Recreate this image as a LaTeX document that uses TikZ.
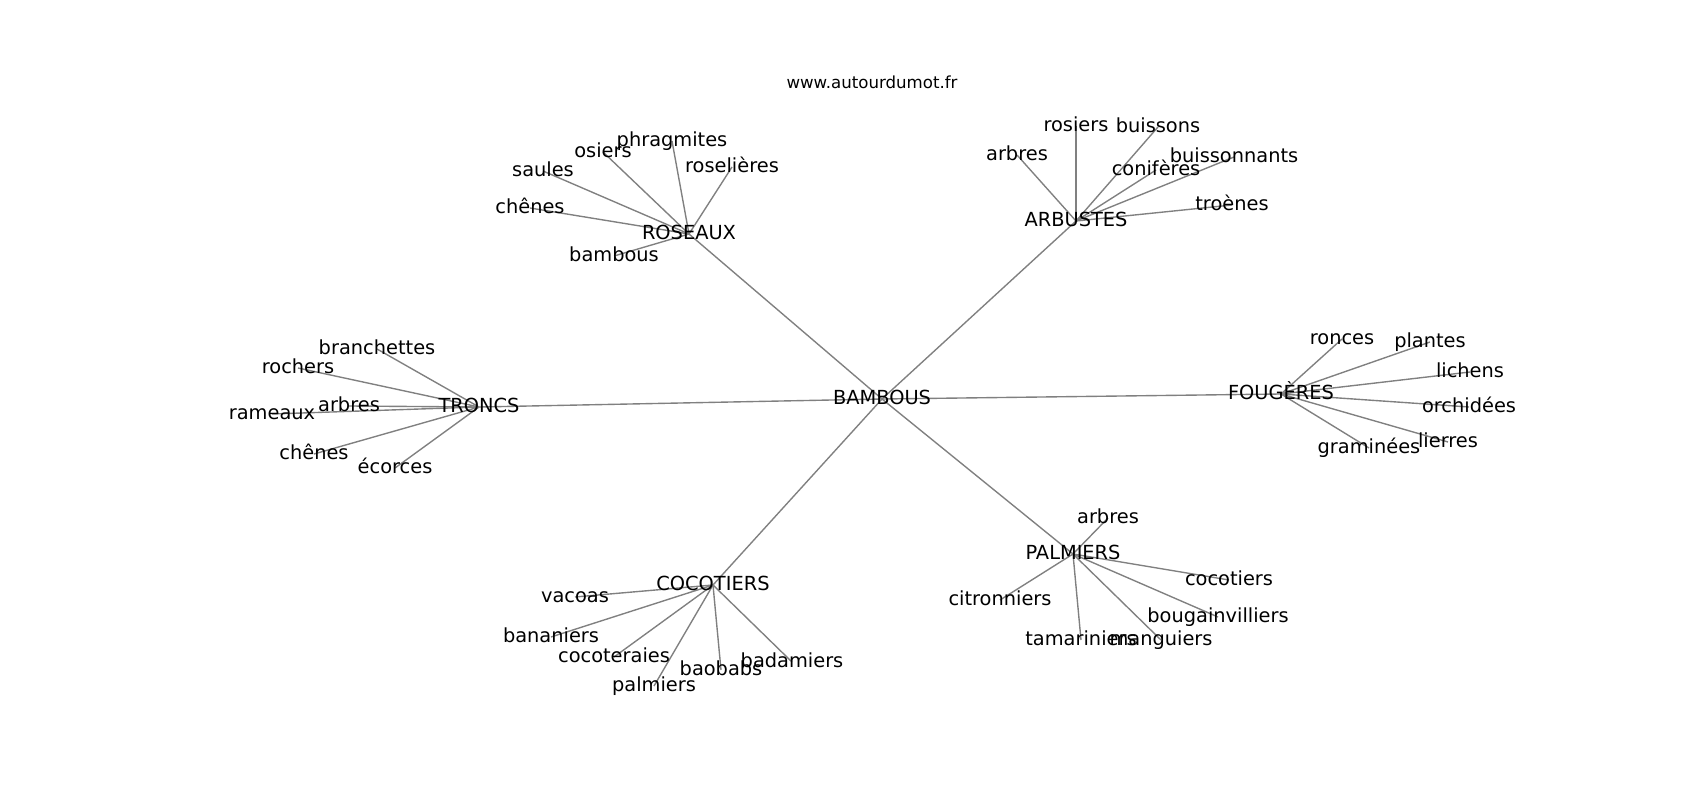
\documentclass[tikz,border=0pt]{standalone}
\usepackage{fontspec}
\setmainfont{DejaVu Sans}
\usepackage{tikz}
\usetikzlibrary{backgrounds}
\tikzstyle{word} = [font=\fontsize{14}{16}\selectfont, text height=10.64pt, text depth=3.36pt, inner sep=0pt]
\tikzstyle{site} = [font=\fontsize{12}{14}\selectfont, text height=9.12pt, text depth=2.88pt, inner sep=0pt]
\tikzstyle{link} = [draw=gray, line width=1pt]

\begin{document}
\begin{tikzpicture}[x=0.01in, y=-0.01in]

  \useasboundingbox (0,-2) rectangle (1700,798);

  \node[site] (site) at (872,82) {www.autourdumot.fr};

  % centre
  \node[word] (bambous) at (882,397) {BAMBOUS};

  % ROSEAUX
  \node[word] (roseaux) at (689,232) {ROSEAUX};
  \node[word] (phragmites) at (672,139) {phragmites};
  \node[word] (osiers) at (603,150) {osiers};
  \node[word] (roselieres) at (732,165) {roselières};
  \node[word] (saules) at (543,169) {saules};
  \node[word] (chenesR) at (530,206) {chênes};
  \node[word] (bambousR) at (614,254) {bambous};

  % ARBUSTES
  \node[word] (arbustes) at (1076,219) {ARBUSTES};
  \node[word] (rosiers) at (1076,124) {rosiers};
  \node[word] (buissons) at (1158,125) {buissons};
  \node[word] (arbresA) at (1017,153) {arbres};
  \node[word] (buissonnants) at (1234,155) {buissonnants};
  \node[word] (coniferes) at (1156,168) {conifères};
  \node[word] (troenes) at (1232,203) {troènes};

  % TRONCS
  \node[word] (troncs) at (479,405) {TRONCS};
  \node[word] (branchettes) at (377,347) {branchettes};
  \node[word] (rochers) at (298,366) {rochers};
  \node[word] (arbresT) at (349,404) {arbres};
  \node[word] (rameaux) at (272,412) {rameaux};
  \node[word] (chenesT) at (314,452) {chênes};
  \node[word] (ecorces) at (395,466) {écorces};

  % FOUGERES
  \node[word] (fougeres) at (1281,392) {FOUGÈRES};
  \node[word] (ronces) at (1342,337) {ronces};
  \node[word] (plantes) at (1430,340) {plantes};
  \node[word] (lichens) at (1470,370) {lichens};
  \node[word] (orchidees) at (1469,405) {orchidées};
  \node[word] (lierres) at (1448,440) {lierres};
  \node[word] (graminees) at (1369,446) {graminées};

  % COCOTIERS
  \node[word] (cocotiers) at (713,583) {COCOTIERS};
  \node[word] (vacoas) at (575,595) {vacoas};
  \node[word] (bananiers) at (551,635) {bananiers};
  \node[word] (cocoteraies) at (614,655) {cocoteraies};
  \node[word] (baobabs) at (721,668) {baobabs};
  \node[word] (badamiers) at (792,660) {badamiers};
  \node[word] (palmiersC) at (654,684) {palmiers};

  % PALMIERS
  \node[word] (palmiers) at (1073,552) {PALMIERS};
  \node[word] (arbresP) at (1108,516) {arbres};
  \node[word] (cocotiersP) at (1229,578) {cocotiers};
  \node[word] (citronniers) at (1000,598) {citronniers};
  \node[word] (bougainvilliers) at (1218,615) {bougainvilliers};
  \node[word] (tamariniers) at (1081,638) {tamariniers};
  \node[word] (manguiers) at (1161,638) {manguiers};

  \begin{pgfonlayer}{background}
    \draw[link] (bambous.center) -- (roseaux.center);
    \draw[link] (bambous.center) -- (arbustes.center);
    \draw[link] (bambous.center) -- (troncs.center);
    \draw[link] (bambous.center) -- (fougeres.center);
    \draw[link] (bambous.center) -- (cocotiers.center);
    \draw[link] (bambous.center) -- (palmiers.center);

    \draw[link] (roseaux.center) -- (phragmites.center);
    \draw[link] (roseaux.center) -- (osiers.center);
    \draw[link] (roseaux.center) -- (roselieres.center);
    \draw[link] (roseaux.center) -- (saules.center);
    \draw[link] (roseaux.center) -- (chenesR.center);
    \draw[link] (roseaux.center) -- (bambousR.center);

    \draw[link] (arbustes.center) -- (rosiers.center);
    \draw[link] (arbustes.center) -- (buissons.center);
    \draw[link] (arbustes.center) -- (arbresA.center);
    \draw[link] (arbustes.center) -- (buissonnants.center);
    \draw[link] (arbustes.center) -- (coniferes.center);
    \draw[link] (arbustes.center) -- (troenes.center);

    \draw[link] (troncs.center) -- (branchettes.center);
    \draw[link] (troncs.center) -- (rochers.center);
    \draw[link] (troncs.center) -- (arbresT.center);
    \draw[link] (troncs.center) -- (rameaux.center);
    \draw[link] (troncs.center) -- (chenesT.center);
    \draw[link] (troncs.center) -- (ecorces.center);

    \draw[link] (fougeres.center) -- (ronces.center);
    \draw[link] (fougeres.center) -- (plantes.center);
    \draw[link] (fougeres.center) -- (lichens.center);
    \draw[link] (fougeres.center) -- (orchidees.center);
    \draw[link] (fougeres.center) -- (lierres.center);
    \draw[link] (fougeres.center) -- (graminees.center);

    \draw[link] (cocotiers.center) -- (vacoas.center);
    \draw[link] (cocotiers.center) -- (bananiers.center);
    \draw[link] (cocotiers.center) -- (cocoteraies.center);
    \draw[link] (cocotiers.center) -- (baobabs.center);
    \draw[link] (cocotiers.center) -- (badamiers.center);
    \draw[link] (cocotiers.center) -- (palmiersC.center);

    \draw[link] (palmiers.center) -- (arbresP.center);
    \draw[link] (palmiers.center) -- (cocotiersP.center);
    \draw[link] (palmiers.center) -- (citronniers.center);
    \draw[link] (palmiers.center) -- (bougainvilliers.center);
    \draw[link] (palmiers.center) -- (tamariniers.center);
    \draw[link] (palmiers.center) -- (manguiers.center);
  \end{pgfonlayer}

\end{tikzpicture}
\end{document}
